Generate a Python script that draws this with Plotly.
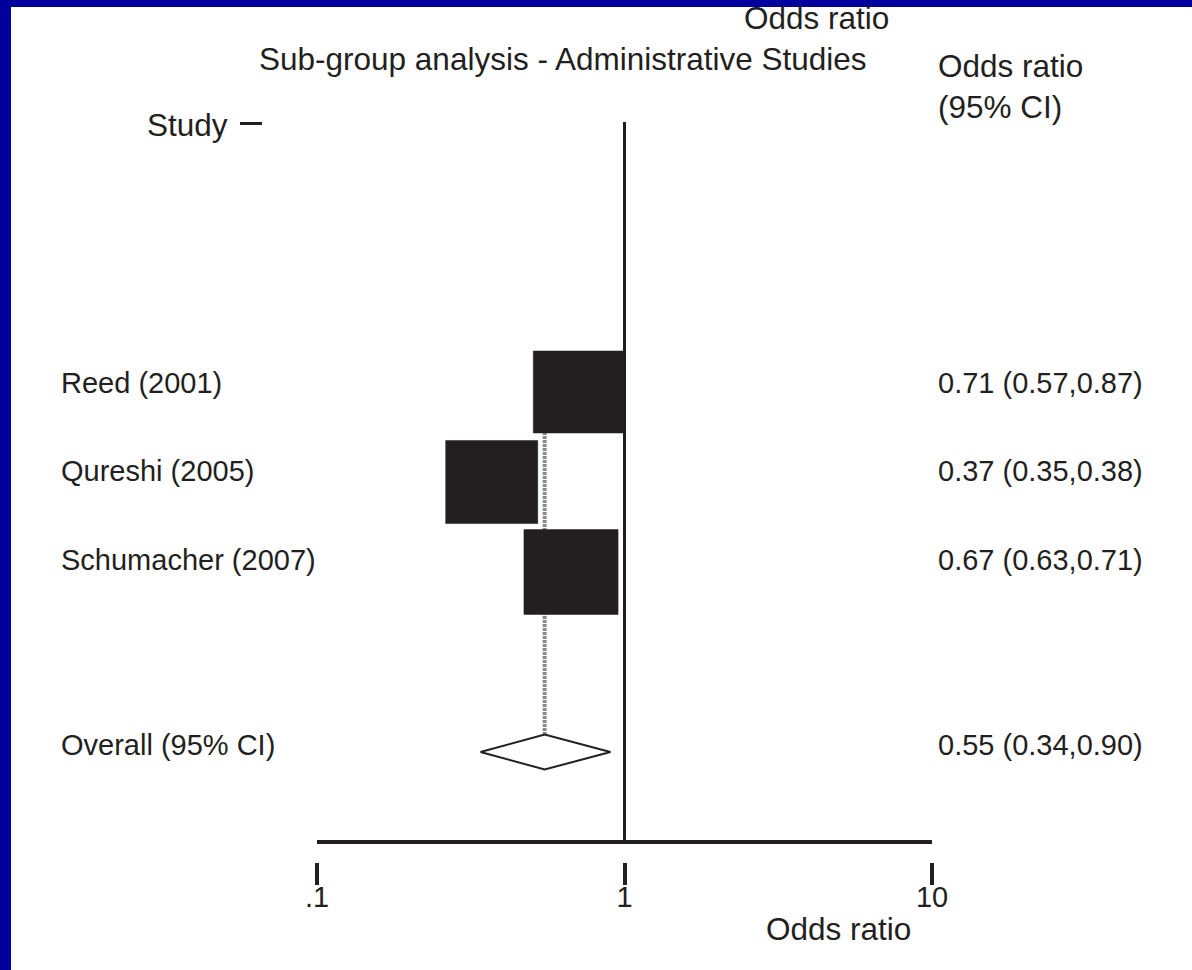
import math
import plotly.graph_objects as go

# ---- data -------------------------------------------------------------
studies = ["Reed (2001)", "Qureshi (2005)", "Schumacher (2007)"]
odds_ratio = [0.71, 0.37, 0.67]
ci_low = [0.57, 0.35, 0.63]
ci_high = [0.87, 0.38, 0.71]
weights = [32.3, 33.1, 34.6]          # percent weight of each study

overall_label = "Overall (95% CI)"
overall_or = 0.55
overall_low = 0.34
overall_high = 0.90

tick_vals = [0.1, 1, 10]
tick_text = [".1", "1", "10"]

# ---- layout constants (pixels) ---------------------------------------
W, H = 1192, 970
PLOT_L, PLOT_R = 317, 932
PLOT_T, PLOT_B = 122, 862
ROW_PX = 90.0                          # vertical spacing between rows
DECADE_PX = (PLOT_R - PLOT_L) / 2.0    # pixels per decade on the log axis
INK = "#231f20"
FONT = "Liberation Sans, Arial, sans-serif"
FS = 29          # row labels and tick labels
FS_HEAD = 31.5   # headings and axis title
BORDER = "#00009c"

Y_TOP, Y_BOTTOM = -2.0, 6.0 + (PLOT_B - 842) / ROW_PX   # row units


def px_x(p):
    return (p - PLOT_L) / (PLOT_R - PLOT_L)


def px_y(p):
    return (PLOT_B - p) / (PLOT_B - PLOT_T)


# row positions: studies 1..n, a blank row, then the pooled estimate
study_rows = list(range(1, len(studies) + 1))
overall_row = len(studies) + 2
axis_row = overall_row + 1

fig = go.Figure()

# dashed line through the pooled estimate
fig.add_trace(go.Scatter(
    x=[overall_or, overall_or], y=[study_rows[0], overall_row],
    mode="lines", line=dict(color="#8a8a8a", width=4, dash="3px,1px"),
    hoverinfo="skip", showlegend=False))

# confidence intervals
for r, lo, hi in zip(study_rows, ci_low, ci_high):
    fig.add_trace(go.Scatter(
        x=[lo, hi], y=[r, r], mode="lines",
        line=dict(color=INK, width=2), hoverinfo="skip", showlegend=False))

# weighted boxes (area proportional to weight)
BOX_K = 15.2
ASPECT = 1.053
for r, orv, w in zip(study_rows, odds_ratio, weights):
    side = BOX_K * math.sqrt(w)
    half_w = side * ASPECT / 2.0 / DECADE_PX
    half_h = side / ASPECT / 2.0 / ROW_PX
    c = math.log10(orv)
    xs = [10 ** (c - half_w), 10 ** (c + half_w), 10 ** (c + half_w), 10 ** (c - half_w), 10 ** (c - half_w)]
    ys = [r - half_h, r - half_h, r + half_h, r + half_h, r - half_h]
    fig.add_trace(go.Scatter(
        x=xs, y=ys, mode="lines", fill="toself", fillcolor=INK,
        line=dict(color=INK, width=0.5), hoverinfo="skip", showlegend=False))

# pooled-estimate diamond
dh = 17.5 / ROW_PX
fig.add_trace(go.Scatter(
    x=[overall_low, overall_or, overall_high, overall_or, overall_low],
    y=[overall_row, overall_row - dh, overall_row, overall_row + dh, overall_row],
    mode="lines", fill="toself", fillcolor="white",
    line=dict(color=INK, width=2), hoverinfo="skip", showlegend=False))

# line of no effect
fig.add_trace(go.Scatter(
    x=[1, 1], y=[Y_TOP, axis_row], mode="lines",
    line=dict(color=INK, width=3), hoverinfo="skip", showlegend=False))

# axis baseline
fig.add_trace(go.Scatter(
    x=[tick_vals[0], tick_vals[-1]], y=[axis_row, axis_row], mode="lines",
    line=dict(color=INK, width=4), hoverinfo="skip", showlegend=False))

annotations = []


def label(text, xp, yp, anchor="left", size=FS):
    annotations.append(dict(
        text=text, x=px_x(xp), y=px_y(yp), xref="paper", yref="paper",
        xanchor=anchor, yanchor="middle", showarrow=False,
        font=dict(family=FONT, size=size, color=INK)))


row_text_px = [383, 471, 560]
for name, orv, lo, hi, yp in zip(studies, odds_ratio, ci_low, ci_high, row_text_px):
    label(name, 59, yp)
    label(f"{orv:.2f} ({lo:.2f},{hi:.2f})", 936, yp)
label(overall_label, 59, 745)
label(f"{overall_or:.2f} ({overall_low:.2f},{overall_high:.2f})", 936, 745)

label("Odds ratio", 816, 18, "center", FS_HEAD)
label("Sub-group analysis - Administrative Studies", 563, 59, "center", FS_HEAD)
label("Odds ratio", 936, 66, size=FS_HEAD)
label("(95% CI)", 936, 107, size=FS_HEAD)
label("Study", 145, 125, size=FS_HEAD)
label("Odds ratio", 838, 929, "center", FS_HEAD)

shapes = [
    # short rule next to the column heading
    dict(type="line", xref="paper", yref="paper",
         x0=px_x(240), x1=px_x(262), y0=px_y(123.5), y1=px_y(123.5),
         line=dict(color=INK, width=3)),
    # frame
    dict(type="rect", xref="paper", yref="paper", layer="above",
         x0=px_x(0), x1=px_x(11), y0=px_y(0), y1=px_y(H),
         fillcolor=BORDER, line=dict(width=0)),
    dict(type="rect", xref="paper", yref="paper", layer="above",
         x0=px_x(0), x1=px_x(W), y0=px_y(0), y1=px_y(7),
         fillcolor=BORDER, line=dict(width=0)),
]

fig.update_layout(
    width=W, height=H,
    margin=dict(l=PLOT_L, r=W - PLOT_R, t=PLOT_T, b=H - PLOT_B, pad=0),
    paper_bgcolor="white", plot_bgcolor="white",
    showlegend=False,
    xaxis=dict(type="log", range=[math.log10(tick_vals[0]), math.log10(tick_vals[-1])],
               tickvals=tick_vals, ticktext=tick_text,
               ticks="outside", ticklen=22, tickwidth=4, tickcolor=INK,
               ticklabelstandoff=-13,
               showline=False, showgrid=False, zeroline=False,
               tickfont=dict(family=FONT, size=FS, color=INK),
               fixedrange=True),
    yaxis=dict(range=[Y_BOTTOM, Y_TOP], visible=False, fixedrange=True),
    annotations=annotations,
    shapes=shapes,
)

fig.write_html("out.html")
